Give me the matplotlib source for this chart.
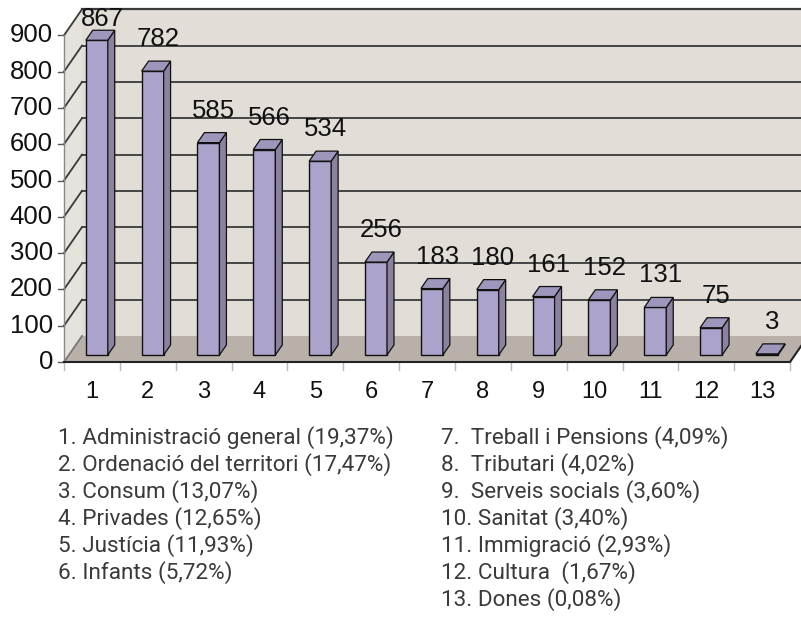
import matplotlib
matplotlib.use('Agg')
import matplotlib.pyplot as plt
from matplotlib.patches import Polygon

# data
cats = [str(i) for i in range(1, 14)]
vals = [867, 782, 585, 566, 534, 256, 183, 180, 161, 152, 131, 75, 3]
yticks = [0, 100, 200, 300, 400, 500, 600, 700, 800, 900]
legend_left = ['1. Administració general (19,37%)',
               '2. Ordenació del territori (17,47%)',
               '3. Consum (13,07%)',
               '4. Privades (12,65%)',
               '5. Justícia (11,93%)',
               '6. Infants (5,72%)']
legend_right = ['7.  Treball i Pensions (4,09%)',
                '8.  Tributari (4,02%)',
                '9.  Serveis socials (3,60%)',
                '10. Sanitat (3,40%)',
                '11. Immigració (2,93%)',
                '12. Cultura  (1,67%)',
                '13. Dones (0,08%)']

W, H = 801, 626
fig = plt.figure(figsize=(W/100, H/100), dpi=100)
ax = fig.add_axes([0, 0, 1, 1])
ax.axis('off')

# pixel mapping of the front plane
px_cat = 55.85
px_val = 0.363
x0_px, y0_px = 64, 362
ax.set_xlim(0.5 - x0_px/px_cat, 0.5 + (W - x0_px)/px_cat)
ax.set_ylim(-(H - y0_px)/px_val, y0_px/px_val)

n = len(vals)
DX = 18/px_cat      # depth offset (x)
DY = 26/px_val      # depth offset (y)
top = yticks[-1]
xl, xr = 0.5, n + 0.5

wall = '#e2ddd6'
lwall = '#e6e2dc'
floor = '#b9b0aa'
grid = '#3a3a3a'

ax.add_patch(Polygon([(xl+DX, DY), (xr+DX, DY), (xr+DX, top+DY), (xl+DX, top+DY)],
                     closed=True, fc=wall, ec='none', zorder=1))
ax.add_patch(Polygon([(xl, 0), (xl+DX, DY), (xl+DX, top+DY), (xl, top)],
                     closed=True, fc=lwall, ec='none', zorder=1))
ax.add_patch(Polygon([(xl, 0), (xr, 0), (xr+DX, DY), (xl+DX, DY)],
                     closed=True, fc=floor, ec='none', zorder=1))

for v in yticks:
    c = grid if v > 0 else '#777777'
    ax.plot([xl, xl+DX], [v, v+DY], color=c, lw=1.3, zorder=2)
    if v > 0:
        ax.plot([xl+DX, xr+DX], [v+DY, v+DY], color=c, lw=1.6 if v == top else 1.3, zorder=2)
    # y tick
    ax.plot([xl - 6/px_cat, xl], [v, v], color='#555555', lw=1.0, zorder=2)
    ax.text(xl - 11/px_cat, v, str(v), ha='right', va='center',
            fontsize=18.5, family='Liberation Sans', color='#111111')

ax.plot([xl, xl], [0, top], color='#8a8a8a', lw=1.0, zorder=2)
ax.plot([xl, xr, xr+DX], [0, 0, DY], color='#222222', lw=1.5, zorder=3)

# x ticks and labels
for k in range(n + 1):
    ax.plot([xl+k, xl+k], [0, -8/px_val], color='#bbbbbb', lw=1.0, zorder=2)
for i, c in enumerate(cats):
    ax.text(i+1, -82, c, ha='center', va='center', fontsize=17,
            family='Liberation Sans', color='#111111')

# bars
f0 = 0.27           # front of bars, fraction of depth
bd = 0.385          # bar depth, fraction of depth
bw = 0.394          # bar width
front = '#aba3cb'
side = '#8c82a0'
topc = '#9f96bc'
for i, v in enumerate(vals):
    cx = i + 1 + f0*DX
    b0 = f0*DY
    ax.bar(cx, v, width=bw, bottom=b0, color=front, edgecolor='#111111',
           linewidth=1.0, zorder=4)
    x1, x2 = cx - bw/2, cx + bw/2
    t = b0 + v
    ddx, ddy = bd*DX, bd*DY
    ax.add_patch(Polygon([(x2, b0), (x2+ddx, b0+ddy), (x2+ddx, t+ddy), (x2, t)],
                         closed=True, fc=side, ec='#111111', lw=0.9, zorder=4))
    ax.add_patch(Polygon([(x1, t), (x2, t), (x2+ddx, t+ddy), (x1+ddx, t+ddy)],
                         closed=True, fc=topc, ec='#111111', lw=0.9, zorder=4))
    ly = min(t + ddy + 15/px_val, 925)
    ax.text(i + 1 + 0.18, ly, str(v), ha='center', va='baseline',
            fontsize=18.5, family='Liberation Sans', color='#111111', zorder=5)

# legend text
lfam = ['Liberation Sans Narrow', 'Roboto', 'DejaVu Sans']
for j, s in enumerate(legend_left):
    fig.text(58/W, 1 - (438 + 27*j)/H, s, ha='left', va='center',
             fontsize=16.2, family=lfam, color='#3a3a3a')
for j, s in enumerate(legend_right):
    fig.text(441/W, 1 - (438 + 27*j)/H, s, ha='left', va='center',
             fontsize=16.2, family=lfam, color='#3a3a3a')

fig.savefig('out.png', dpi=100, facecolor='white')
